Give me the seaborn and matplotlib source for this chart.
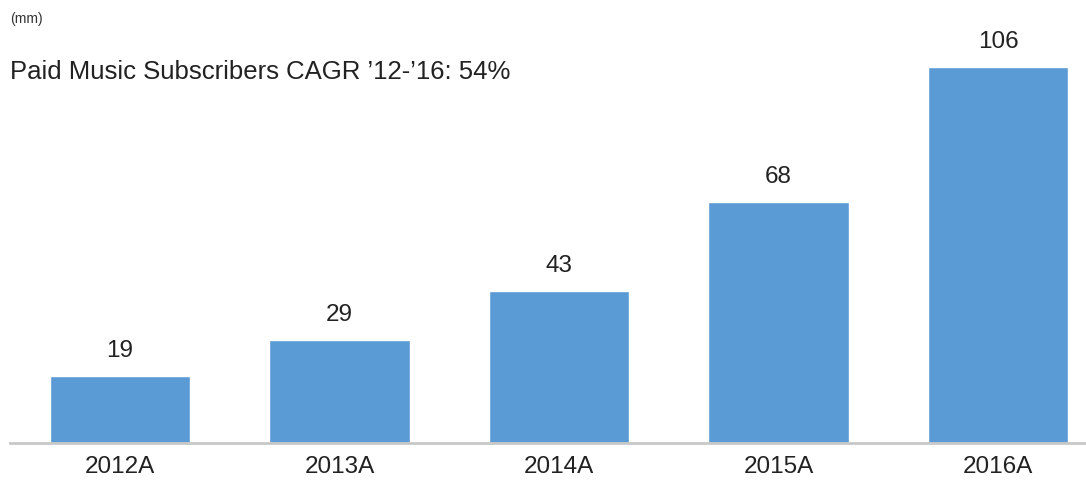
import matplotlib
matplotlib.use("Agg")
import matplotlib.pyplot as plt
import seaborn as sns
import pandas as pd

categories = ["2012A", "2013A", "2014A", "2015A", "2016A"]
values = [19, 29, 43, 68, 106]

sns.set_theme(style="white")
plt.rcParams['font.family'] = ['Liberation Sans', 'DejaVu Sans']

df = pd.DataFrame({"year": categories, "subs": values})

fig = plt.figure(figsize=(10.86, 4.86), dpi=100)
ax = fig.add_axes([10/1086, 1 - 443/486, 1 - 10/1086, 443/486])
sns.barplot(data=df, x="year", y="subs", color="#5B9BD5", saturation=1,
            width=0.64, ax=ax)

ax.set_xlim(-0.5, 4.4)
ax.set_ylim(0, 125)
for s in ["top", "right", "left"]:
    ax.spines[s].set_visible(False)
ax.spines["bottom"].set_color("#c8c8c8")
ax.spines["bottom"].set_linewidth(2)
ax.set_yticks([])
ax.set_xlabel("")
ax.set_ylabel("")
ax.tick_params(axis="x", length=0, labelsize=17.5, pad=9, colors="#222222")

for i, v in enumerate(values):
    ax.annotate(str(v), (i, v), xytext=(0, 18), textcoords="offset points",
                ha="center", va="center", fontsize=17.5, color="#222222")

fig.text(10/1086, 1 - 19/486, "(mm)", fontsize=10, color="#333333", va="center", ha="left")
fig.text(10/1086, 1 - 72/486, "Paid Music Subscribers CAGR \u201912-\u201916: 54%",
         fontsize=18.5, color="#222222", va="center", ha="left")

fig.savefig("out.png", dpi=100)
